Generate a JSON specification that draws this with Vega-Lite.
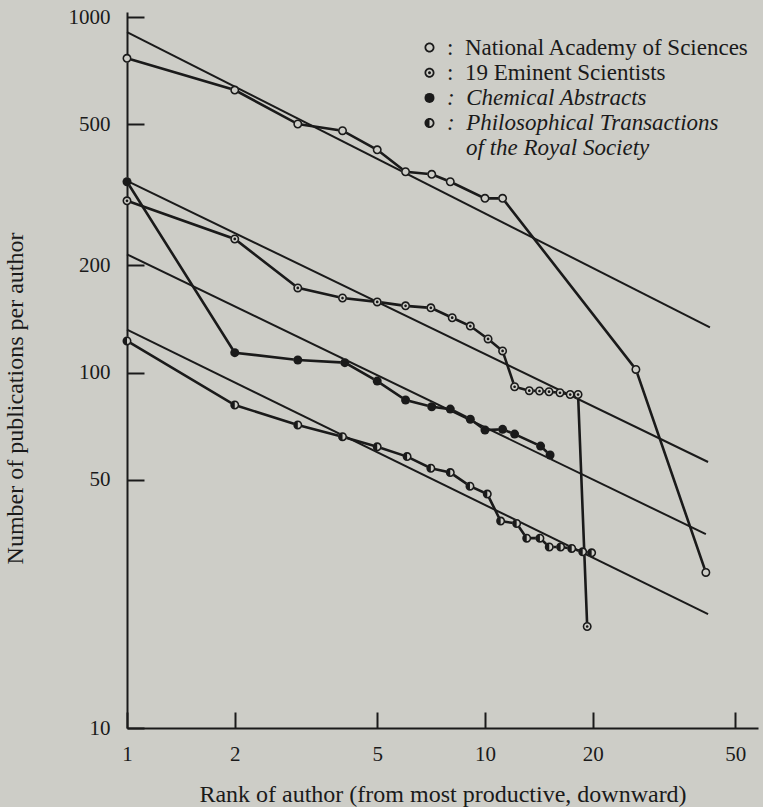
{
  "$schema": "https://vega.github.io/schema/vega-lite/v6.json",
  "width": 631,
  "height": 716,
  "autosize": {"type": "none"},
  "padding": {"left": 127, "top": 12, "right": 5, "bottom": 79},
  "background": "#cdcdc7",
  "config": {"view": {"stroke": null}, "font": "Liberation Serif"},
  "datasets": {
    "series": [
      {"series": "National Academy of Sciences", "rank": 1, "value": 765},
      {"series": "National Academy of Sciences", "rank": 2, "value": 623},
      {"series": "National Academy of Sciences", "rank": 3, "value": 500},
      {"series": "National Academy of Sciences", "rank": 4, "value": 479},
      {"series": "National Academy of Sciences", "rank": 5, "value": 423},
      {"series": "National Academy of Sciences", "rank": 6, "value": 367},
      {"series": "National Academy of Sciences", "rank": 7.1, "value": 361},
      {"series": "National Academy of Sciences", "rank": 8, "value": 344},
      {"series": "National Academy of Sciences", "rank": 10, "value": 309},
      {"series": "National Academy of Sciences", "rank": 11.2, "value": 309},
      {"series": "National Academy of Sciences", "rank": 26.4, "value": 102},
      {"series": "National Academy of Sciences", "rank": 41.4, "value": 27.4},
      {"series": "19 Eminent Scientists", "rank": 1, "value": 304},
      {"series": "19 Eminent Scientists", "rank": 2, "value": 237.5},
      {"series": "19 Eminent Scientists", "rank": 3, "value": 173},
      {"series": "19 Eminent Scientists", "rank": 4, "value": 162},
      {"series": "19 Eminent Scientists", "rank": 5, "value": 158},
      {"series": "19 Eminent Scientists", "rank": 6, "value": 154},
      {"series": "19 Eminent Scientists", "rank": 7.06, "value": 152},
      {"series": "19 Eminent Scientists", "rank": 8.1, "value": 142.6},
      {"series": "19 Eminent Scientists", "rank": 9.1, "value": 135.1},
      {"series": "19 Eminent Scientists", "rank": 10.2, "value": 124.3},
      {"series": "19 Eminent Scientists", "rank": 11.2, "value": 115},
      {"series": "19 Eminent Scientists", "rank": 12.1, "value": 91.2},
      {"series": "19 Eminent Scientists", "rank": 13.3, "value": 88.9},
      {"series": "19 Eminent Scientists", "rank": 14.2, "value": 88.7},
      {"series": "19 Eminent Scientists", "rank": 15.1, "value": 88.3},
      {"series": "19 Eminent Scientists", "rank": 16.2, "value": 87.7},
      {"series": "19 Eminent Scientists", "rank": 17.3, "value": 86.7},
      {"series": "19 Eminent Scientists", "rank": 18.2, "value": 86.7},
      {"series": "19 Eminent Scientists", "rank": 19.3, "value": 19.3},
      {"series": "Chemical Abstracts", "rank": 1, "value": 344},
      {"series": "Chemical Abstracts", "rank": 2, "value": 113.7},
      {"series": "Chemical Abstracts", "rank": 3, "value": 108.4},
      {"series": "Chemical Abstracts", "rank": 4.06, "value": 106.6},
      {"series": "Chemical Abstracts", "rank": 5, "value": 94.6},
      {"series": "Chemical Abstracts", "rank": 6, "value": 83.7},
      {"series": "Chemical Abstracts", "rank": 7.1, "value": 80.1},
      {"series": "Chemical Abstracts", "rank": 8, "value": 78.9},
      {"series": "Chemical Abstracts", "rank": 9.1, "value": 73.9},
      {"series": "Chemical Abstracts", "rank": 10, "value": 68.9},
      {"series": "Chemical Abstracts", "rank": 11.2, "value": 69.2},
      {"series": "Chemical Abstracts", "rank": 12.1, "value": 67.1},
      {"series": "Chemical Abstracts", "rank": 14.3, "value": 62.1},
      {"series": "Chemical Abstracts", "rank": 15.2, "value": 58.6},
      {"series": "Philosophical Transactions", "rank": 1, "value": 122.7},
      {"series": "Philosophical Transactions", "rank": 2, "value": 81},
      {"series": "Philosophical Transactions", "rank": 3, "value": 71.2},
      {"series": "Philosophical Transactions", "rank": 4, "value": 66},
      {"series": "Philosophical Transactions", "rank": 5, "value": 61.8},
      {"series": "Philosophical Transactions", "rank": 6.06, "value": 58},
      {"series": "Philosophical Transactions", "rank": 7.06, "value": 53.8},
      {"series": "Philosophical Transactions", "rank": 8, "value": 52.3},
      {"series": "Philosophical Transactions", "rank": 9.08, "value": 47.9},
      {"series": "Philosophical Transactions", "rank": 10.15, "value": 45.5},
      {"series": "Philosophical Transactions", "rank": 11.06, "value": 38.2},
      {"series": "Philosophical Transactions", "rank": 12.26, "value": 37.6},
      {"series": "Philosophical Transactions", "rank": 13.08, "value": 34.2},
      {"series": "Philosophical Transactions", "rank": 14.24, "value": 34.2},
      {"series": "Philosophical Transactions", "rank": 15.12, "value": 32.3},
      {"series": "Philosophical Transactions", "rank": 16.27, "value": 32.3},
      {"series": "Philosophical Transactions", "rank": 17.47, "value": 32},
      {"series": "Philosophical Transactions", "rank": 18.75, "value": 31.3},
      {"series": "Philosophical Transactions", "rank": 19.86, "value": 31.1}
    ],
    "fits": [
      {"fit": "A", "rank": 1, "value": 907},
      {"fit": "A", "rank": 42.5, "value": 134},
      {"fit": "B", "rank": 1, "value": 346},
      {"fit": "B", "rank": 42, "value": 56},
      {"fit": "C", "rank": 1, "value": 215},
      {"fit": "C", "rank": 41.4, "value": 35.1},
      {"fit": "D", "rank": 1, "value": 132},
      {"fit": "D", "rank": 42, "value": 20.9}
    ]
  },
  "encoding": {
    "x": {
      "field": "rank",
      "type": "quantitative",
      "scale": {"type": "log", "domain": [1, 57.9], "nice": false},
      "axis": {
        "values": [1, 2, 5, 10, 20, 50],
        "format": "d",
        "grid": false,
        "tickSize": -16,
        "tickWidth": 2,
        "tickColor": "#1a1a1a",
        "domainColor": "#1a1a1a",
        "domainWidth": 2,
        "labelFont": "Liberation Serif",
        "labelFontSize": 21,
        "labelColor": "#1a1a1a",
        "labelPadding": 31,
        "labelBaseline": "top",
        "labelFlush": false,
        "labelOverlap": false,
        "title": "Rank of author (from most productive, downward)",
        "titleFont": "Liberation Serif",
        "titleFontSize": 24,
        "titleFontWeight": "normal",
        "titleColor": "#1a1a1a",
        "titleBaseline": "alphabetic",
        "titleY": 73
      }
    },
    "y": {
      "field": "value",
      "type": "quantitative",
      "scale": {"type": "log", "domain": [10, 1033], "nice": false},
      "axis": {
        "values": [10, 50, 100, 200, 500, 1000],
        "format": "d",
        "grid": false,
        "tickSize": -17,
        "tickWidth": 2,
        "tickColor": "#1a1a1a",
        "domainColor": "#1a1a1a",
        "domainWidth": 2,
        "labelFont": "Liberation Serif",
        "labelFontSize": 21,
        "labelColor": "#1a1a1a",
        "labelPadding": 34,
        "labelFlush": false,
        "labelOverlap": false,
        "title": "Number of publications per author",
        "titleFont": "Liberation Serif",
        "titleFontSize": 24,
        "titleFontWeight": "normal",
        "titleColor": "#1a1a1a",
        "titleBaseline": "alphabetic",
        "titleX": -105,
        "titleY": 386
      }
    }
  },
  "layer": [
    {
      "data": {"name": "fits"},
      "mark": {"type": "line", "color": "#1a1a1a", "strokeWidth": 2},
      "encoding": {"detail": {"field": "fit", "type": "nominal"}}
    },
    {
      "data": {"name": "series"},
      "mark": {"type": "line", "color": "#1a1a1a", "strokeWidth": 2.6},
      "encoding": {"detail": {"field": "series", "type": "nominal"}}
    },
    {
      "data": {"name": "series"},
      "mark": {"type": "point", "shape": "circle", "filled": true, "color": "#cdcdc7", "size": 70, "opacity": 1, "strokeWidth": 0}
    },
    {
      "data": {"name": "series"},
      "mark": {"type": "point", "filled": true, "color": "#1a1a1a", "size": 81, "opacity": 1, "strokeWidth": 0},
      "encoding": {
        "shape": {
          "field": "series",
          "type": "nominal",
          "scale": {
            "domain": ["National Academy of Sciences", "19 Eminent Scientists", "Chemical Abstracts", "Philosophical Transactions", "of the Royal Society"],
            "range": [
              "M-1,0A1,1,0,1,1,1,0A1,1,0,1,1,-1,0Z M-0.65,0A0.65,0.65,0,1,0,0.65,0A0.65,0.65,0,1,0,-0.65,0Z",
              "M-1,0A1,1,0,1,1,1,0A1,1,0,1,1,-1,0Z M-0.65,0A0.65,0.65,0,1,0,0.65,0A0.65,0.65,0,1,0,-0.65,0Z M-0.3,0A0.3,0.3,0,1,1,0.3,0A0.3,0.3,0,1,1,-0.3,0Z",
              "circle",
              "M-1,0A1,1,0,1,1,1,0A1,1,0,1,1,-1,0Z M0,-0.65L0,0.65A0.65,0.65,0,0,0,0,-0.65Z",
              "M0,0Z"
            ]
          },
          "legend": {
            "orient": "none",
            "legendX": 291,
            "legendY": 24,
            "title": null,
            "padding": 0,
            "symbolSize": 100,
            "symbolStrokeWidth": 0,
            "symbolOpacity": 1,
            "labelFont": "Liberation Serif",
            "labelFontSize": 23,
            "labelColor": "#1a1a1a",
            "labelOffset": {"expr": "datum.value == 'of the Royal Society' ? 25 : 6"},
            "labelFontStyle": {"expr": "indexof(['Chemical Abstracts', 'Philosophical Transactions', 'of the Royal Society'], datum.value) >= 0 ? 'italic' : 'normal'"},
            "labelLimit": 600,
            "rowPadding": 1.2,
            "labelExpr": "datum.label == 'of the Royal Society' ? datum.label : ':\u00a0\u00a0' + datum.label"
          }
        }
      }
    }
  ]
}
